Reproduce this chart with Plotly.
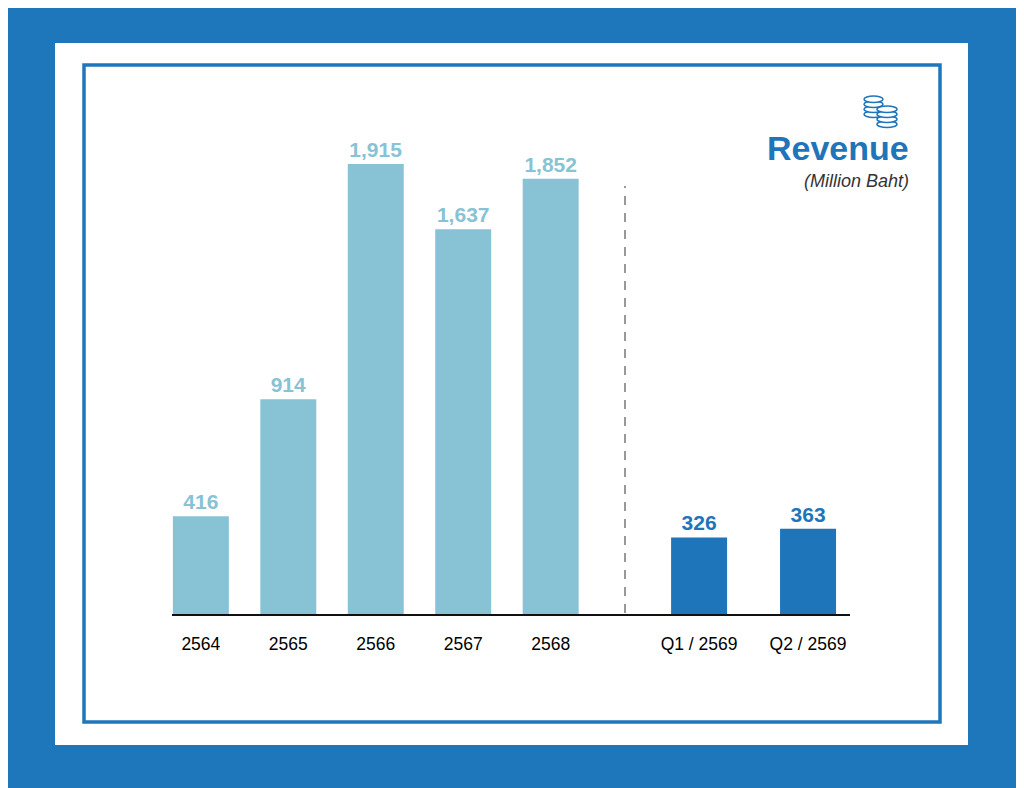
import plotly.graph_objects as go
from plotly.subplots import make_subplots

# === DATA ===
YEARS = ["2564", "2565", "2566", "2567", "2568"]
YEAR_REVENUE = [416, 914, 1915, 1637, 1852]
QUARTERS = ["Q1 / 2569", "Q2 / 2569"]
QUARTER_REVENUE = [326, 363]

W, H = 1024, 788
OFF = 8  # page body margin in the browser
BG_BLUE = "#1f77bb"
LIGHT = "#88c2d5"
DARK = "#1f75b9"
FONT = "Liberation Sans, Arial, Helvetica, sans-serif"


def px(x):
    return (x - OFF) / W


def py(y):
    return 1 - (y - OFF) / H


fig = make_subplots(rows=1, cols=2, shared_yaxes=False)

fig.add_trace(go.Bar(
    x=YEARS, y=YEAR_REVENUE,
    marker=dict(color=LIGHT, line=dict(width=0)),
    width=0.64,
    texttemplate="%{y:,}", textposition="outside", cliponaxis=False,
    textfont=dict(family=FONT, size=21, color=LIGHT, weight="bold"),
    showlegend=False,
), row=1, col=1)

fig.add_trace(go.Bar(
    x=QUARTERS, y=QUARTER_REVENUE,
    marker=dict(color=DARK, line=dict(width=0)),
    width=0.514,
    texttemplate="%{y:,}", textposition="outside", cliponaxis=False,
    textfont=dict(family=FONT, size=21, color=DARK, weight="bold"),
    showlegend=False,
), row=1, col=2)

axis_common = dict(
    showgrid=False, zeroline=False, showline=True, linecolor="#111111",
    linewidth=2, ticks="", ticklabelstandoff=13,
    tickfont=dict(family=FONT, size=17.5, color="#000000"),
    fixedrange=True,
)
fig.update_xaxes(domain=[px(172), px(625)], range=[-0.33, 4.85], **axis_common, row=1, col=1)
fig.update_xaxes(domain=[px(625), px(850)], range=[-0.68, 1.385], **axis_common, row=1, col=2)
fig.update_yaxes(domain=[py(614), py(144)], range=[0, 2000], visible=False, fixedrange=True)

shapes = [
    # white panel and inner blue frame
    dict(type="rect", xref="paper", yref="paper", x0=px(55), x1=px(968), y0=py(745), y1=py(43),
         fillcolor="white", line=dict(width=0), layer="below"),
    dict(type="rect", xref="paper", yref="paper", x0=px(84), x1=px(940), y0=py(722), y1=py(65),
         fillcolor="rgba(0,0,0,0)", line=dict(color=BG_BLUE, width=3.5), layer="below"),
    # dashed separator
    dict(type="line", xref="paper", yref="paper", x0=px(625), x1=px(625), y0=py(613), y1=py(186),
         line=dict(color="#333333", width=1, dash="9px,8px")),
]

# coin stacks icon
for x0, x1, top in [(864, 883, 96), (877, 897, 106)]:
    for i in range(3, -1, -1):
        yt = top + i * 5
        shapes.append(dict(type="circle", xref="paper", yref="paper",
                           x0=px(x0), x1=px(x1), y0=py(yt + 6.5), y1=py(yt),
                           fillcolor="white", line=dict(color=DARK, width=1.5)))

fig.update_layout(
    width=W, height=H,
    margin=dict(l=0, r=0, t=0, b=0, autoexpand=False),
    paper_bgcolor=BG_BLUE, plot_bgcolor="rgba(0,0,0,0)",
    bargap=0.36,
    shapes=shapes,
    annotations=[
        dict(text="<b>Revenue</b>", xref="paper", yref="paper", x=px(911), y=py(148),
             xanchor="right", yanchor="middle", showarrow=False,
             font=dict(family=FONT, size=34, color=DARK)),
        dict(text="<i>(Million Baht)</i>", xref="paper", yref="paper", x=px(911), y=py(181),
             xanchor="right", yanchor="middle", showarrow=False,
             font=dict(family=FONT, size=18, color="#333333")),
    ],
)

fig.write_html("out.html")
